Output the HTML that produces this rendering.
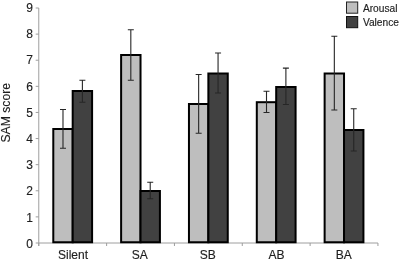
<!DOCTYPE html>
<html><head><meta charset="utf-8"><style>
html,body{margin:0;padding:0;background:#fff;}
svg{display:block;will-change:transform;font-family:"Liberation Sans",sans-serif;fill:#1e1e1e;}
text{stroke:#1e1e1e;stroke-width:0.15px;}
</style></head><body>
<svg width="400" height="261" viewBox="0 0 400 261">
<line x1="38.77" y1="8.0" x2="38.77" y2="246" stroke="#9e9e9e" stroke-width="1"/>
<line x1="38.77" y1="243.0" x2="377.95" y2="243.0" stroke="#9e9e9e" stroke-width="1"/>
<line x1="35.7" y1="243.00" x2="38.77" y2="243.00" stroke="#9e9e9e" stroke-width="1"/>
<text x="33" y="248.30" text-anchor="end" font-size="12">0</text>
<line x1="35.7" y1="216.89" x2="38.77" y2="216.89" stroke="#9e9e9e" stroke-width="1"/>
<text x="33" y="222.39" text-anchor="end" font-size="12">1</text>
<line x1="35.7" y1="190.78" x2="38.77" y2="190.78" stroke="#9e9e9e" stroke-width="1"/>
<text x="33" y="195.08" text-anchor="end" font-size="12">2</text>
<line x1="35.7" y1="164.67" x2="38.77" y2="164.67" stroke="#9e9e9e" stroke-width="1"/>
<text x="33" y="168.97" text-anchor="end" font-size="12">3</text>
<line x1="35.7" y1="138.56" x2="38.77" y2="138.56" stroke="#9e9e9e" stroke-width="1"/>
<text x="33" y="142.86" text-anchor="end" font-size="12">4</text>
<line x1="35.7" y1="112.44" x2="38.77" y2="112.44" stroke="#9e9e9e" stroke-width="1"/>
<text x="33" y="116.74" text-anchor="end" font-size="12">5</text>
<line x1="35.7" y1="86.33" x2="38.77" y2="86.33" stroke="#9e9e9e" stroke-width="1"/>
<text x="33" y="90.63" text-anchor="end" font-size="12">6</text>
<line x1="35.7" y1="60.22" x2="38.77" y2="60.22" stroke="#9e9e9e" stroke-width="1"/>
<text x="33" y="63.52" text-anchor="end" font-size="12">7</text>
<line x1="35.7" y1="34.11" x2="38.77" y2="34.11" stroke="#9e9e9e" stroke-width="1"/>
<text x="33" y="38.41" text-anchor="end" font-size="12">8</text>
<line x1="35.7" y1="8.00" x2="38.77" y2="8.00" stroke="#9e9e9e" stroke-width="1"/>
<text x="33" y="12.30" text-anchor="end" font-size="12">9</text>
<line x1="38.77" y1="243.0" x2="38.77" y2="246" stroke="#9e9e9e" stroke-width="1"/>
<line x1="106.61" y1="243.0" x2="106.61" y2="246" stroke="#9e9e9e" stroke-width="1"/>
<line x1="174.44" y1="243.0" x2="174.44" y2="246" stroke="#9e9e9e" stroke-width="1"/>
<line x1="242.28" y1="243.0" x2="242.28" y2="246" stroke="#9e9e9e" stroke-width="1"/>
<line x1="310.11" y1="243.0" x2="310.11" y2="246" stroke="#9e9e9e" stroke-width="1"/>
<line x1="377.95" y1="243.0" x2="377.95" y2="246" stroke="#9e9e9e" stroke-width="1"/>
<rect x="53.29" y="129" width="19.4" height="113.25" fill="#bebebe" stroke="#000" stroke-width="2"/>
<rect x="72.69" y="91" width="19.4" height="151.25" fill="#414141" stroke="#000" stroke-width="2"/>
<rect x="121.12" y="55" width="19.4" height="187.25" fill="#bebebe" stroke="#000" stroke-width="2"/>
<rect x="140.52" y="191" width="19.4" height="51.25" fill="#414141" stroke="#000" stroke-width="2"/>
<rect x="188.96" y="104" width="19.4" height="138.25" fill="#bebebe" stroke="#000" stroke-width="2"/>
<rect x="208.36" y="73.5" width="19.4" height="168.75" fill="#414141" stroke="#000" stroke-width="2"/>
<rect x="256.80" y="102.2" width="19.4" height="140.05" fill="#bebebe" stroke="#000" stroke-width="2"/>
<rect x="276.19" y="87" width="19.4" height="155.25" fill="#414141" stroke="#000" stroke-width="2"/>
<rect x="324.63" y="73.5" width="19.4" height="168.75" fill="#bebebe" stroke="#000" stroke-width="2"/>
<rect x="344.03" y="130" width="19.4" height="112.25" fill="#414141" stroke="#000" stroke-width="2"/>
<path d="M62.99 109.5V148.3M59.99 109.5H65.99M59.99 148.3H65.99" stroke="#262626" stroke-width="1.1" fill="none"/>
<path d="M82.39 80.2V102.2M79.39 80.2H85.39M79.39 102.2H85.39" stroke="#262626" stroke-width="1.1" fill="none"/>
<text x="73" y="259" text-anchor="middle" font-size="12">Silent</text>
<path d="M130.82 29.7V80.2M127.82 29.7H133.82M127.82 80.2H133.82" stroke="#262626" stroke-width="1.1" fill="none"/>
<path d="M150.22 182.3V198.7M147.22 182.3H153.22M147.22 198.7H153.22" stroke="#262626" stroke-width="1.1" fill="none"/>
<text x="139.7" y="259" text-anchor="middle" font-size="12">SA</text>
<path d="M198.66 74.5V133.3M195.66 74.5H201.66M195.66 133.3H201.66" stroke="#262626" stroke-width="1.1" fill="none"/>
<path d="M218.06 53V93M215.06 53H221.06M215.06 93H221.06" stroke="#262626" stroke-width="1.1" fill="none"/>
<text x="207.75" y="259" text-anchor="middle" font-size="12">SB</text>
<path d="M266.50 91.2V112.5M263.50 91.2H269.50M263.50 112.5H269.50" stroke="#262626" stroke-width="1.1" fill="none"/>
<path d="M285.89 68.1V104.5M282.89 68.1H288.89M282.89 104.5H288.89" stroke="#262626" stroke-width="1.1" fill="none"/>
<text x="276.5" y="259" text-anchor="middle" font-size="12">AB</text>
<path d="M334.33 36.25V110M331.33 36.25H337.33M331.33 110H337.33" stroke="#262626" stroke-width="1.1" fill="none"/>
<path d="M353.73 108.8V151M350.73 108.8H356.73M350.73 151H356.73" stroke="#262626" stroke-width="1.1" fill="none"/>
<text x="343.75" y="259" text-anchor="middle" font-size="12">BA</text>
<text transform="translate(10.2,112.8) rotate(-90)" text-anchor="middle" font-size="12.2">SAM score</text>
<rect x="346.5" y="2" width="11.2" height="11.2" fill="#bebebe" stroke="#222" stroke-width="1"/>
<rect x="346.5" y="16.5" width="11.2" height="11.2" fill="#414141" stroke="#111" stroke-width="1"/>
<text x="362.9" y="11.5" font-size="10.2">Arousal</text>
<text x="362.9" y="25.6" font-size="10.2">Valence</text>
</svg>
</body></html>
